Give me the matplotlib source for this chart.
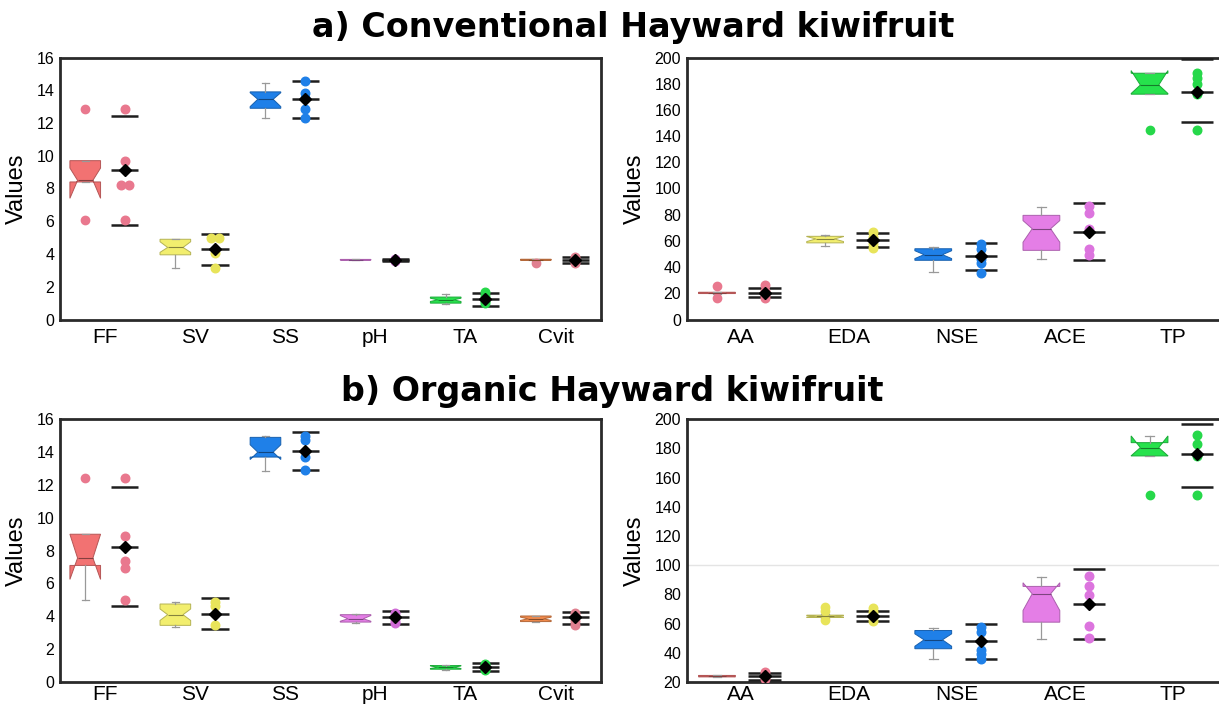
import numpy as np
import matplotlib.pyplot as plt
from matplotlib.colors import to_rgb

plt.rcParams['font.family'] = ['Liberation Sans', 'DejaVu Sans']

# ---- a) conventional kiwifruit, physico-chemical traits ----
phys_labels = ["FF", "SV", "SS", "pH", "TA", "Cvit"]
conv_phys_q1 = [8.4, 3.95, 12.9, 3.63, 1.0, 3.62]
conv_phys_med = [8.5, 4.4, 13.45, 3.65, 1.2, 3.65]
conv_phys_q3 = [9.7, 4.9, 13.9, 3.67, 1.37, 3.68]
conv_phys_cilo = [7.4, 4.1, 13.0, 3.64, 1.1, 3.64]
conv_phys_cihi = [9.25, 4.75, 13.85, 3.66, 1.3, 3.66]
conv_phys_whislo = [8.4, 3.15, 12.3, 3.62, 0.95, 3.6]
conv_phys_whishi = [9.7, 4.9, 14.45, 3.68, 1.55, 3.7]
conv_phys_fliers = [[12.85, 6.05], [], [], [], [], [3.48]]
conv_phys_points = [[12.85, 9.65, 8.2, 8.2, 6.05], [4.95, 4.95, 4.05, 3.15],
                    [14.55, 13.85, 13.5, 12.85, 12.3], [3.6, 3.65, 3.7],
                    [1.65, 1.45, 1.1, 1.0], [3.8, 3.7, 3.55, 3.45]]
conv_phys_mean = [9.1, 4.3, 13.45, 3.65, 1.25, 3.65]
conv_phys_upper = [12.4, 5.25, 14.55, 3.7, 1.6, 3.8]
conv_phys_lower = [5.8, 3.35, 12.3, 3.6, 0.85, 3.45]

# ---- a) conventional kiwifruit, antioxidant traits ----
anti_labels = ["AA", "EDA", "NSE", "ACE", "TP"]
conv_anti_q1 = [19.8, 58.5, 45.2, 52.8, 172.0]
conv_anti_med = [20.3, 61.5, 49.5, 69.3, 179.0]
conv_anti_q3 = [20.8, 63.5, 54.0, 79.5, 188.0]
conv_anti_cilo = [20.0, 59.5, 46.5, 59.0, 172.5]
conv_anti_cihi = [20.6, 63.3, 52.5, 75.5, 190.0]
conv_anti_whislo = [19.5, 56.0, 36.3, 46.5, 172.0]
conv_anti_whishi = [21.0, 64.5, 55.3, 85.5, 188.5]
conv_anti_fliers = [[25.5, 16.2], [], [], [], [144.5]]
conv_anti_points = [[26.0, 22.0, 19.0, 16.5], [67.0, 63.0, 58.0, 54.5],
                    [57.5, 54.0, 46.5, 43.0, 35.8], [87.0, 81.0, 69.0, 54.0, 49.0],
                    [188.5, 184.5, 179.5, 172.0, 144.5]]
conv_anti_mean = [20.5, 61.0, 48.2, 66.8, 174.0]
conv_anti_upper = [24.2, 66.2, 58.6, 88.8, 198.7]
conv_anti_lower = [17.0, 55.5, 37.6, 45.2, 150.5]

# ---- b) organic kiwifruit, physico-chemical traits ----
org_phys_q1 = [7.1, 3.45, 13.7, 3.65, 0.78, 3.68]
org_phys_med = [7.55, 4.1, 14.0, 3.85, 0.9, 3.85]
org_phys_q3 = [9.0, 4.75, 14.9, 4.1, 1.0, 4.02]
org_phys_cilo = [6.25, 3.75, 13.55, 3.7, 0.82, 3.75]
org_phys_cihi = [9.0, 4.45, 14.45, 4.05, 0.98, 3.95]
org_phys_whislo = [5.0, 3.35, 12.85, 3.62, 0.75, 3.65]
org_phys_whishi = [9.0, 4.9, 15.0, 4.12, 1.02, 4.05]
org_phys_fliers = [[12.4], [], [], [], [], []]
org_phys_points = [[12.4, 8.9, 7.35, 6.95, 5.0], [4.9, 4.6, 3.5],
                   [15.0, 14.75, 13.7, 12.9], [4.2, 3.95, 3.7, 3.6],
                   [1.1, 0.95, 0.85, 0.72], [4.2, 4.0, 3.7, 3.5]]
org_phys_mean = [8.25, 4.15, 14.05, 3.95, 0.92, 3.95]
org_phys_upper = [11.9, 5.1, 15.25, 4.3, 1.15, 4.25]
org_phys_lower = [4.6, 3.2, 12.9, 3.55, 0.68, 3.55]

# ---- b) organic kiwifruit, antioxidant traits ----
org_anti_q1 = [23.5, 64.2, 42.8, 61.0, 174.9]
org_anti_med = [24.0, 65.0, 48.9, 80.4, 180.6]
org_anti_q3 = [24.5, 65.8, 55.3, 85.5, 184.0]
org_anti_cilo = [23.7, 64.5, 44.5, 69.0, 175.0]
org_anti_cihi = [24.3, 65.5, 53.0, 88.0, 188.6]
org_anti_whislo = [23.2, 63.8, 36.0, 49.6, 174.9]
org_anti_whishi = [24.8, 66.3, 56.9, 92.2, 188.6]
org_anti_fliers = [[], [71.5, 68.5, 62.2], [], [], [148.2]]
org_anti_points = [[26.8, 24.0, 22.3], [70.5, 68.0, 64.5, 61.5],
                   [57.6, 54.2, 42.1, 39.4, 35.9], [92.4, 86.0, 79.7, 58.7, 50.3],
                   [189.0, 182.9, 174.9, 148.2]]
org_anti_mean = [23.9, 64.9, 48.0, 73.5, 176.0]
org_anti_upper = [26.2, 68.5, 59.9, 97.4, 197.0]
org_anti_lower = [21.1, 61.5, 35.9, 49.8, 153.7]

phys_colors = ["#f27272", "#f2ee6e", "#1f80e8", "#e47ee6", "#26e24c", "#f08a4c"]
anti_colors = ["#f27272", "#f2ee6e", "#1f80e8", "#e47ee6", "#26e24c"]
phys_point_colors = ["#e9788e", "#e8e45a", "#1f80e8", "#d06ad6", "#26d84a", "#e08090"]
anti_point_colors = ["#e9788e", "#e8e45a", "#1f80e8", "#dc74de", "#26d84a"]


def darker(c, f=0.8):
    return tuple(v * f for v in to_rgb(c))


def dodge(vals, step=0.045):
    offs = np.zeros(len(vals))
    for v in set(vals):
        idx = [i for i, x in enumerate(vals) if x == v]
        if len(idx) > 1:
            offs[idx] = np.linspace(-step, step, len(idx))
    return offs


def draw_panel(ax, labels, q1, med, q3, cilo, cihi, whislo, whishi, fliers,
               points, mean, upper, lower, colors, pcolors):
    stats = []
    for i in range(len(labels)):
        stats.append(dict(q1=q1[i], med=med[i], q3=q3[i], cilo=cilo[i], cihi=cihi[i],
                          whislo=whislo[i], whishi=whishi[i], fliers=fliers[i], label=labels[i]))
    pos = np.arange(1, len(labels) + 1)
    res = ax.bxp(stats, positions=pos - 0.22, widths=0.34, patch_artist=True,
                 shownotches=True, manage_ticks=False, capwidths=0.08,
                 boxprops=dict(linewidth=0.7),
                 whiskerprops=dict(color="#999999", linewidth=0.9),
                 capprops=dict(color="#999999", linewidth=0.9),
                 medianprops=dict(linewidth=0.8),
                 flierprops=dict(marker="o", markersize=6))
    for i, box in enumerate(res["boxes"]):
        box.set_facecolor(colors[i])
        box.set_edgecolor(darker(colors[i], 0.75))
        res["medians"][i].set_color(darker(colors[i], 0.55))
        res["fliers"][i].set_markerfacecolor(pcolors[i])
        res["fliers"][i].set_markeredgecolor(pcolors[i])
    for i, p in enumerate(pos):
        xp = p + 0.22
        ax.hlines([upper[i], mean[i], lower[i]], xp - 0.15, xp + 0.15,
                  color="#1e1e1e", linewidth=1.8, zorder=3)
        ax.scatter(xp + dodge(points[i]), points[i], s=38, color=pcolors[i],
                   edgecolor=pcolors[i], zorder=4)
        ax.plot(xp, mean[i], marker="D", color="black", markersize=6, zorder=5)
    ax.set_xticks(pos)
    ax.set_xticklabels(labels, fontsize=15)
    ax.set_xlim(0.5, len(labels) + 0.5)
    ax.tick_params(length=0, pad=6)
    ax.tick_params(axis="y", labelsize=11.5, pad=4)
    for sp in ax.spines.values():
        sp.set_linewidth(2)
        sp.set_color("#2a2a2a")
    ax.set_ylabel("Values", fontsize=17, labelpad=6)


fig = plt.figure(figsize=(12.19, 7.05), dpi=100)
W, H = 1219, 705

ax1 = fig.add_axes([60 / W, 1 - 319.5 / H, 540.7 / W, 262 / H])
ax2 = fig.add_axes([686.7 / W, 1 - 319.5 / H, 540.7 / W, 262 / H])
ax3 = fig.add_axes([60 / W, 1 - 682 / H, 540.7 / W, 262.7 / H])
ax4 = fig.add_axes([686.7 / W, 1 - 682 / H, 540.7 / W, 262.7 / H])

draw_panel(ax1, phys_labels, conv_phys_q1, conv_phys_med, conv_phys_q3, conv_phys_cilo,
           conv_phys_cihi, conv_phys_whislo, conv_phys_whishi, conv_phys_fliers,
           conv_phys_points, conv_phys_mean, conv_phys_upper, conv_phys_lower,
           phys_colors, phys_point_colors)
draw_panel(ax2, anti_labels, conv_anti_q1, conv_anti_med, conv_anti_q3, conv_anti_cilo,
           conv_anti_cihi, conv_anti_whislo, conv_anti_whishi, conv_anti_fliers,
           conv_anti_points, conv_anti_mean, conv_anti_upper, conv_anti_lower,
           anti_colors, anti_point_colors)
draw_panel(ax3, phys_labels, org_phys_q1, org_phys_med, org_phys_q3, org_phys_cilo,
           org_phys_cihi, org_phys_whislo, org_phys_whishi, org_phys_fliers,
           org_phys_points, org_phys_mean, org_phys_upper, org_phys_lower,
           phys_colors, phys_point_colors)
draw_panel(ax4, anti_labels, org_anti_q1, org_anti_med, org_anti_q3, org_anti_cilo,
           org_anti_cihi, org_anti_whislo, org_anti_whishi, org_anti_fliers,
           org_anti_points, org_anti_mean, org_anti_upper, org_anti_lower,
           anti_colors, anti_point_colors)

for ax in (ax1, ax3):
    ax.set_ylim(0, 16)
    ax.set_yticks(np.arange(0, 17, 2))
ax2.set_ylim(0, 200)
ax2.set_yticks(np.arange(0, 201, 20))
ax4.set_ylim(20, 200)
ax4.set_yticks(np.arange(20, 201, 20))
ax4.axhline(100, color="#e4e4e4", linewidth=1, zorder=0)

# bottom row category labels sit close to the image edge, as in the source
for ax in (ax3, ax4):
    ax.tick_params(axis="x", pad=2)

fig.text(633 / W, 1 - 28 / H, "a) Conventional Hayward kiwifruit", ha="center", va="center",
         fontsize=24, fontweight="bold", family="DejaVu Sans")
fig.text(612 / W, 1 - 391 / H, "b) Organic Hayward kiwifruit", ha="center", va="center",
         fontsize=24, fontweight="bold", family="DejaVu Sans")

fig.savefig("out.png", dpi=100)
